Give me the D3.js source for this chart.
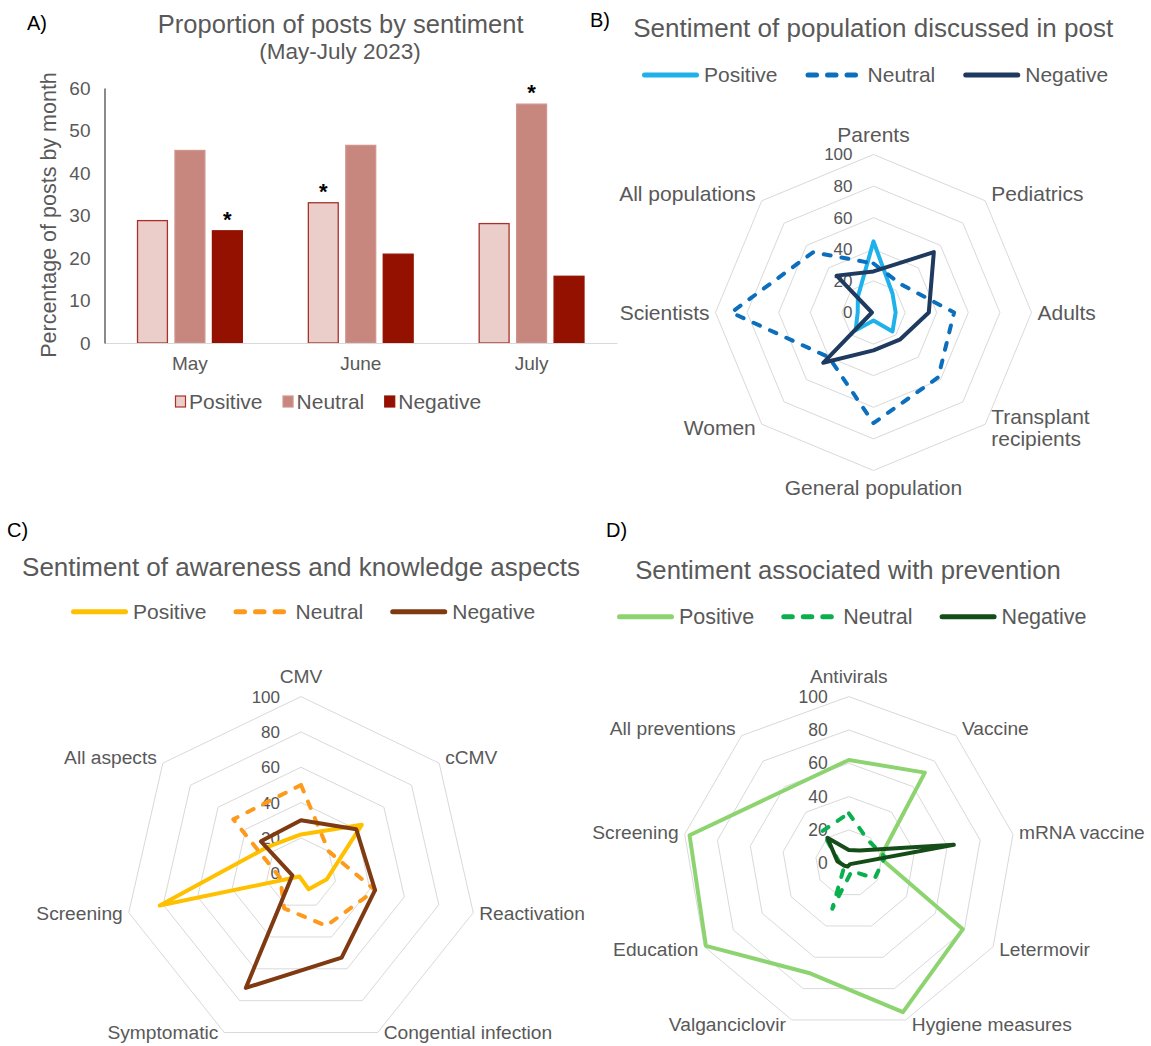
<!DOCTYPE html>
<html><head><meta charset="utf-8">
<script src="https://cdn.jsdelivr.net/npm/d3@7"></script>
<style>
body{margin:0;background:#fff}
svg{display:block}
text{font-family:"Liberation Sans",Arial,Helvetica,sans-serif}
</style>
</head><body>
<svg id="c" width="1151" height="1046"></svg>
<script>
// ---------------- DATA ----------------
const months = ["May", "June", "July"];
const sentiments = ["Positive", "Neutral", "Negative"];
const barPositive = [28.8, 33.0, 28.1];
const barNeutral  = [45.3, 46.5, 56.2];
const barNegative = [26.4, 20.9, 15.7];
const barStars = [["Negative"], ["Positive"], ["Neutral"]];
const yTicks = [0, 10, 20, 30, 40, 50, 60];

const popCategories = ["Parents", "Pediatrics", "Adults", "Transplant recipients", "General population", "Women", "Scientists", "All populations"];
const popPositive = [45, 17, 14, 17, 5, 16, 10, 14];
const popNeutral  = [31, 25, 51, 58, 70, 40, 90, 54];
const popNegative = [26, 54, 35, 24, 24, 45, 1, 33];

const awareCategories = ["CMV", "cCMV", "Reactivation", "Congential infection", "Symptomatic", "Screening", "All aspects"];
const awarePositive = [22, 44, 15, 10, 2, 82, 24];
const awareNeutral  = [50, 20, 43, 33, 22, 12, 49];
const awareNegative = [30, 40, 43, 53, 72, 5, 29];

const prevCategories = ["Antivirals", "Vaccine", "mRNA vaccine", "Letermovir", "Hygiene measures", "Valganciclovir", "Education", "Screening", "All preventions"];
const prevPositive = [62, 71, 19, 79, 95, 70, 99, 97, 58];
const prevNeutral  = [30, 18, 22, 18, 5, 29, 3, 6, 25];
const prevNegative = [8, 10, 64, 1, 1, 2, 3, 7, 20];

const radarTicks = [0, 20, 40, 60, 80, 100];

// ---------------- HELPERS ----------------
const W = 1151, H = 1046;
const svg = d3.select("#c");
const GRAY = "#595959";
function addText(g, x, yc, str, fs, anchor = "start", fill = GRAY) {
  return g.append("text").attr("x", x).attr("y", yc + 0.35 * fs)
    .attr("font-size", fs).attr("text-anchor", anchor).attr("fill", fill).text(str);
}
function legendLines(x, yc, items, fs, gap) {
  let cx = x;
  items.forEach(it => {
    const l = svg.append("line").attr("y1", yc).attr("y2", yc)
      .attr("stroke", it.color).attr("stroke-width", 5).attr("stroke-linecap", "round");
    if (it.dash) l.attr("x1", cx + 2.5).attr("x2", cx + 50).attr("stroke-dasharray", "8.5,11");
    else l.attr("x1", cx + 2.5).attr("x2", cx + 54.5);
    const t = addText(svg, cx + 62, yc, it.label, fs);
    cx = cx + 62 + t.node().getComputedTextLength() + gap;
  });
}

// ---------------- PANEL A ----------------
const barVals = { Positive: barPositive, Neutral: barNeutral, Negative: barNegative };
const barFill = { Positive: "#ebcdca", Neutral: "#c8877e", Negative: "#941100" };
const barStroke = { Positive: "#a8322a", Neutral: "#cf948c", Negative: "#941100" };

const x0 = d3.scaleBand().domain(months).range([104.5, 617]);
const x1 = d3.scaleBand().domain(sentiments).range([0, 106]).paddingInner(0.17);
const y = d3.scaleLinear().domain([0, 60]).range([343, 88]);

addText(svg, 27, 23, "A)", 20, "start", "#000");
addText(svg, 340.7, 24, "Proportion of posts by sentiment", 25.5, "middle");
addText(svg, 340, 51, "(May-July 2023)", 22.5, "middle");

const gA = svg.append("g");
months.forEach((m, i) => {
  sentiments.forEach(s => {
    const v = barVals[s][i];
    const bx = x0(m) + x0.bandwidth() / 2 - 53 + x1(s);
    gA.append("rect").attr("x", bx + 0.6).attr("y", y(v)).attr("width", x1.bandwidth() - 1.2)
      .attr("height", y(0) - y(v)).attr("fill", barFill[s]).attr("stroke", barStroke[s]).attr("stroke-width", 1.3);
    if (barStars[i].includes(s)) {
      gA.append("text").attr("x", bx + x1.bandwidth() / 2).attr("y", y(v) - 16 + 12)
        .attr("text-anchor", "middle").attr("font-size", 22).attr("font-weight", "bold").attr("fill", "#000").text("*");
    }
  });
});

// x axis
const xAxis = svg.append("g").attr("transform", "translate(0,343)")
  .call(d3.axisBottom(x0).tickSize(0).tickSizeOuter(0));
xAxis.select(".domain").attr("stroke", "#d9d9d9").attr("stroke-width", 1.2);
xAxis.selectAll("text").attr("y", 20).attr("dy", "0.35em").attr("font-size", 19).attr("fill", GRAY)
  .attr("font-family", "Liberation Sans, Arial, sans-serif");

// y axis
const yAxis = svg.append("g").attr("transform", "translate(104.5,0)")
  .call(d3.axisLeft(y).tickValues(yTicks).tickSize(0).tickSizeOuter(0).tickPadding(14));
yAxis.select(".domain").attr("stroke", "#595959").attr("stroke-width", 1.4);
yAxis.selectAll("text").attr("font-size", 19).attr("fill", GRAY).attr("font-family", "Liberation Sans, Arial, sans-serif");

svg.append("text").attr("transform", "translate(55.5,215) rotate(-90)").attr("text-anchor", "middle")
  .attr("font-size", 21.5).attr("fill", GRAY).text("Percentage of posts by month");

// legend A
(function () {
  let cx = 175;
  sentiments.forEach(s => {
    svg.append("rect").attr("x", cx + 0.5).attr("y", 396).attr("width", 10).attr("height", 11)
      .attr("fill", barFill[s]).attr("stroke", barStroke[s]).attr("stroke-width", 1.2);
    const t = addText(svg, cx + 14, 401.7, s, 21);
    cx = cx + 14 + t.node().getComputedTextLength() + 20;
  });
})();

// ---------------- RADAR ----------------
function radar(o) {
  const n = o.cats.length;
  const ang = d3.scaleLinear().domain([0, n]).range([0, 2 * Math.PI]);
  const r = d3.scaleLinear().domain([0, 100]).range([0, o.R]);
  const g = svg.append("g").attr("transform", `translate(${o.cx},${o.cy})`);
  const poly = d3.lineRadial().angle((d, i) => ang(i)).radius(d => r(d)).curve(d3.curveLinearClosed);

  radarTicks.forEach(t => {
    if (t > 0) g.append("path").attr("d", poly(o.cats.map(() => t)))
      .attr("fill", "none").attr("stroke", "#d9d9d9").attr("stroke-width", 1);
  });
  radarTicks.forEach(t => addText(g, -21, -r(t), String(t), o.fsTick, "end", "#555"));

  // category labels
  const maxYc = H - o.cy - 0.62 * o.fsCat - 2;
  o.cats.forEach((c, i) => {
    const th = ang(i), s = Math.sin(th), co = Math.cos(th);
    const vx = o.R * s, vy = -o.R * co;
    if (Math.abs(s) < 0.05) {
      addText(g, vx, Math.min(vy + (co > 0 ? -20 : 17), maxYc), c, o.fsCat, "middle");
    } else {
      const anchor = s > 0 ? "start" : "end";
      const lx = vx + 6 * Math.sign(s);
      const yc = Math.min(vy - co * (co > 0 ? 10 : 5), maxYc);
      const t = addText(g, lx, yc, c, o.fsCat, anchor);
      const w = t.node().getComputedTextLength();
      if (s > 0 && o.cx + lx + w > o.maxX) {
        const words = c.split(" ");
        t.remove();
        const lh = o.fsCat * 1.05;
        words.forEach((wd, k) => addText(g, lx, yc + (k - (words.length - 1) / 2) * lh, wd, o.fsCat, anchor));
      }
    }
  });

  o.series.forEach(sr => {
    const p = g.append("path").attr("d", poly(sr.values)).attr("fill", "none")
      .attr("stroke", sr.color).attr("stroke-width", 4).attr("stroke-linejoin", "round");
    if (sr.dash) p.attr("stroke-dasharray", "7,11").attr("stroke-linecap", "round");
  });
}

// ---------------- PANEL B ----------------
const colB = { pos: "#1fb1ea", neu: "#0b6fbd", neg: "#1e3a5f" };
addText(svg, 590, 20, "B)", 20, "start", "#000");
addText(svg, 873.2, 28, "Sentiment of population discussed in post", 26, "middle");
legendLines(642, 75, [
  { label: "Positive", color: colB.pos },
  { label: "Neutral", color: colB.neu, dash: true },
  { label: "Negative", color: colB.neg }], 21, 28);
radar({
  cx: 873.5, cy: 312.5, R: 158, cats: popCategories, fsCat: 21, fsTick: 17, maxX: 1151,
  series: [
    { values: popPositive, color: colB.pos },
    { values: popNeutral, color: colB.neu, dash: true },
    { values: popNegative, color: colB.neg }]
});

// ---------------- PANEL C ----------------
const colC = { pos: "#ffc000", neu: "#fd9a1b", neg: "#7f3a11" };
addText(svg, 7, 530, "C)", 20, "start", "#000");
addText(svg, 301, 566.7, "Sentiment of awareness and knowledge aspects", 26, "middle");
legendLines(71, 611.7, [
  { label: "Positive", color: colC.pos },
  { label: "Neutral", color: colC.neu, dash: true },
  { label: "Negative", color: colC.neg }], 21, 27);
radar({
  cx: 301, cy: 873.3, R: 176.7, cats: awareCategories, fsCat: 19.2, fsTick: 17, maxX: 595,
  series: [
    { values: awarePositive, color: colC.pos },
    { values: awareNeutral, color: colC.neu, dash: true },
    { values: awareNegative, color: colC.neg }]
});

// ---------------- PANEL D ----------------
const colD = { pos: "#8dd471", neu: "#0aaf4e", neg: "#144d18" };
addText(svg, 606, 530, "D)", 20, "start", "#000");
addText(svg, 848, 570, "Sentiment associated with prevention", 25.7, "middle");
legendLines(617, 616.7, [
  { label: "Positive", color: colD.pos },
  { label: "Neutral", color: colD.neu, dash: true },
  { label: "Negative", color: colD.neg }], 21.5, 27);
radar({
  cx: 848.8, cy: 863.3, R: 166.7, cats: prevCategories, fsCat: 19.2, fsTick: 17.5, maxX: 1151,
  series: [
    { values: prevPositive, color: colD.pos },
    { values: prevNeutral, color: colD.neu, dash: true },
    { values: prevNegative, color: colD.neg }]
});
</script>
</body></html>
